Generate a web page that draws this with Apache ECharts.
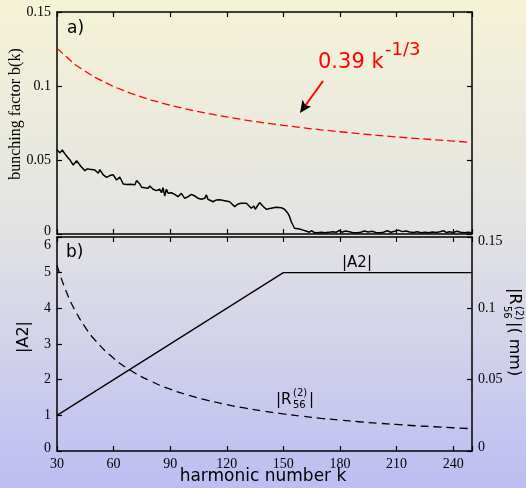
<!DOCTYPE html>
<html>
<head>
<meta charset="utf-8">
<script src="https://cdn.jsdelivr.net/npm/echarts@6/dist/echarts.min.js"></script>
<style>
html,body{margin:0;padding:0;}
#chart{width:526px;height:488px;background:linear-gradient(to bottom,#f5f3d6 0%,#e2e2e4 48%,#bdbdf3 100%);}
</style>
</head>
<body>
<div id="chart"></div>
<script>
// ---- data ----
const xTicks = [30, 60, 90, 120, 150, 180, 210, 240];
const bunchK = [30,31,31.6,32.8,34,35.5,36.9,38.6,40.4,42.5,44.8,46,47.5,50.1,51.9,52.7,54.5,56.3,58,59.8,61.6,63.3,65.1,67,69,71.3,72.2,73.9,74.8,76.5,78.3,79.2,80.9,82.7,84.5,85.4,86.2,87.1,88,88.9,90.6,92.4,94.2,95.9,97.7,99.5,101.3,103,104.8,106.5,108.3,109.2,110,112.7,114.5,116.2,118.9,121.5,122.4,124.2,125.9,127.7,130.4,131.2,133,134.4,135.1,136.2,137.4,139.1,140.9,143.6,146.2,148.9,150.6,152.4,153.3,154.2,155.9,158.5,160,162,163.8,165,166.5,168,170,172,174,176,178,179.7,181,183,185,187,189,191,193,195,197,199,201,203,205,207,209,211,213,215,217,219,221,223,225,227,229,231,233,235,236.5,238,240,242,244,246,248,250];
const bunchB = [0.0568,0.0555,0.0548,0.0568,0.0545,0.052,0.050,0.0466,0.0495,0.046,0.0428,0.044,0.0437,0.0432,0.041,0.0435,0.040,0.0383,0.0395,0.040,0.0365,0.0385,0.0338,0.0335,0.0336,0.0333,0.0362,0.0338,0.0316,0.0312,0.0309,0.0324,0.0302,0.0293,0.0302,0.0279,0.0313,0.0257,0.0302,0.0275,0.0279,0.0268,0.0252,0.0275,0.0241,0.0252,0.0268,0.0257,0.0241,0.0235,0.0241,0.0264,0.0235,0.0218,0.0230,0.0232,0.0225,0.0218,0.0208,0.0185,0.0203,0.0208,0.0208,0.0203,0.0174,0.0189,0.0167,0.0189,0.0212,0.0189,0.0167,0.0174,0.0180,0.0178,0.0167,0.0140,0.0117,0.0083,0.0039,0.0034,0.0028,0.0020,0.0012,0.0022,0.0010,0.0008,0.0012,0.0009,0.0011,0.0015,0.0012,0.0024,0.0012,0.0020,0.0015,0.0009,0.0008,0.0012,0.0020,0.0014,0.0018,0.0010,0.0008,0.0012,0.0022,0.0012,0.0018,0.0026,0.0016,0.0020,0.0013,0.0010,0.0015,0.0009,0.0012,0.0008,0.0014,0.0010,0.0015,0.0022,0.0010,0.0015,0.0010,0.0018,0.0012,0.0009,0.0011,0.0009];
const fitK = [30,40,50,60,70,80,90,100,110,120,130,140,150,160,170,180,190,200,210,220,230,240,250];
const fitB = [0.1255,0.1140,0.1059,0.0996,0.0946,0.0905,0.0870,0.0840,0.0814,0.0791,0.0770,0.0751,0.0734,0.0718,0.0704,0.0691,0.0678,0.0667,0.0656,0.0646,0.0637,0.0628,0.0619];
const a2K = [30, 150, 250];
const a2V = [1, 5, 5];
const r56K = [30,35,40,45,50,60,70,80,90,100,110,120,130,140,150,160,170,180,190,200,210,220,230,240,250];
const r56V = [0.130,0.1114,0.0975,0.0867,0.078,0.065,0.0557,0.0488,0.0433,0.039,0.0355,0.0325,0.030,0.0279,0.026,0.0244,0.0229,0.0217,0.0205,0.0195,0.0186,0.0177,0.0170,0.0163,0.0156];
const topYTicks = [0, 0.05, 0.1, 0.15];
const leftYTicks = [0, 1, 2, 3, 4, 5, 6];
const rightYTicks = [0, 0.05, 0.1, 0.15];

const zip = (a, b) => a.map((v, i) => [v, b[i]]);
const SERIF = 'Liberation Serif';
const SANS = 'DejaVu Sans';
const axisLine = {show: true, onZero: false, lineStyle: {color: '#000', width: 1.5}};
const tick = {show: true, inside: true, length: 5, lineStyle: {color: '#000', width: 1.2}};
const lbl = {color: '#000', fontFamily: SERIF, fontSize: 14};

function xAx(grid, pos, labels) {
  return {
    type: 'value', gridIndex: grid, position: pos, min: 30, max: 250, interval: 30,
    axisLine: axisLine, axisTick: tick, splitLine: {show: false},
    axisLabel: Object.assign({show: labels, margin: 6,
      formatter: v => (xTicks.indexOf(v) >= 0 ? String(v) : '')}, lbl)
  };
}

const chart = echarts.init(document.getElementById('chart'), null, {renderer: 'canvas'});
chart.setOption({
  backgroundColor: 'transparent',
  animation: false,
  grid: [
    {left: 57, top: 12, width: 415, height: 222},
    {left: 57, top: 237, width: 415, height: 214}
  ],
  xAxis: [xAx(0, 'bottom', false), xAx(0, 'top', false), xAx(1, 'bottom', true), xAx(1, 'top', false)],
  yAxis: [
    {type: 'value', gridIndex: 0, position: 'left', min: 0, max: 0.15, interval: 0.05,
     axisLine: axisLine, axisTick: tick, splitLine: {show: false},
     axisLabel: Object.assign({margin: 6,
       formatter: v => (v === 0 ? '{z|0}' : String(v)),
       rich: {z: {fontFamily: SERIF, fontSize: 14, color: '#000', padding: [0, 0, 6, 0]}}}, lbl)},
    {type: 'value', gridIndex: 0, position: 'right', min: 0, max: 0.15, interval: 0.05,
     axisLine: axisLine, axisTick: tick, splitLine: {show: false}, axisLabel: {show: false}},
    {type: 'value', gridIndex: 1, position: 'left', min: 0, max: 6, interval: 1,
     axisLine: axisLine, axisTick: tick, splitLine: {show: false},
     axisLabel: Object.assign({margin: 6,
       formatter: v => (v === 6 ? '{s|6}' : (v === 0 ? '{z|0}' : String(v))),
       rich: {s: {fontFamily: SERIF, fontSize: 14, color: '#000', padding: [16, 0, 0, 0]},
              z: {fontFamily: SERIF, fontSize: 14, color: '#000', padding: [0, 0, 6, 0]}}}, lbl)},
    {type: 'value', gridIndex: 1, position: 'right', min: 0, max: 0.15, interval: 0.05,
     axisLine: axisLine, axisTick: tick, splitLine: {show: false},
     axisLabel: Object.assign({margin: 6,
       formatter: v => (v === 0.15 ? '{s|0.15}' : (v === 0 ? '{z|0}' : String(v))),
       rich: {s: {fontFamily: SERIF, fontSize: 14, color: '#000', padding: [8, 0, 0, 0]},
              z: {fontFamily: SERIF, fontSize: 14, color: '#000', padding: [0, 0, 8, 0]}}}, lbl)}
  ],
  series: [
    {type: 'line', xAxisIndex: 0, yAxisIndex: 0, data: zip(fitK, fitB), showSymbol: false, smooth: false,
     lineStyle: {color: '#ff0000', width: 1.3, type: [8, 4]}},
    {type: 'line', xAxisIndex: 0, yAxisIndex: 0, data: zip(bunchK, bunchB), showSymbol: false,
     lineStyle: {color: '#000', width: 1.5}},
    {type: 'line', xAxisIndex: 2, yAxisIndex: 2, data: zip(a2K, a2V), showSymbol: false,
     lineStyle: {color: '#000', width: 1.3}},
    {type: 'line', xAxisIndex: 2, yAxisIndex: 3, data: zip(r56K, r56V), showSymbol: false, smooth: true,
     lineStyle: {color: '#000', width: 1.3, type: [8, 5]}}
  ],
  graphic: [
    {type: 'text', x: 67, y: 29, style: {text: 'a)', fill: '#000', fontFamily: SANS, fontSize: 17, align: 'left', verticalAlign: 'middle'}},
    {type: 'text', x: 66, y: 253, style: {text: 'b)', fill: '#000', fontFamily: SANS, fontSize: 17, align: 'left', verticalAlign: 'middle'}},
    {type: 'text', x: 16, y: 114, rotation: Math.PI / 2, style: {text: 'bunching factor b(k)', fill: '#000', fontFamily: SERIF, fontSize: 16, align: 'center', verticalAlign: 'middle'}},
    {type: 'text', x: 24, y: 337, rotation: Math.PI / 2, style: {text: '|A2|', fill: '#000', fontFamily: SANS, fontSize: 16, align: 'center', verticalAlign: 'middle'}},
    {type: 'text', x: 263, y: 477, style: {text: 'harmonic number k', fill: '#000', fontFamily: SANS, fontSize: 17, align: 'center', verticalAlign: 'middle'}},
    {type: 'text', x: 357, y: 263, style: {text: '|A2|', fill: '#000', fontFamily: SANS, fontSize: 15, align: 'center', verticalAlign: 'middle'}},
    {type: 'text', x: 276, y: 400, style: {text: '|R', fill: '#000', fontFamily: SANS, fontSize: 15, align: 'left', verticalAlign: 'middle'}},
    {type: 'text', x: 293, y: 393, style: {text: '(2)', fill: '#000', fontFamily: SANS, fontSize: 10, align: 'left', verticalAlign: 'middle'}},
    {type: 'text', x: 293, y: 405, style: {text: '56', fill: '#000', fontFamily: SANS, fontSize: 10, align: 'left', verticalAlign: 'middle'}},
    {type: 'text', x: 309, y: 400, style: {text: '|', fill: '#000', fontFamily: SANS, fontSize: 15, align: 'left', verticalAlign: 'middle'}},
    {type: 'group', x: 514, y: 288, rotation: -Math.PI / 2, children: [
      {type: 'text', x: 0, y: 0, style: {text: '|R', fill: '#000', fontFamily: SANS, fontSize: 16, align: 'left', verticalAlign: 'middle'}},
      {type: 'text', x: 18, y: -5, style: {text: '(2)', fill: '#000', fontFamily: SANS, fontSize: 10, align: 'left', verticalAlign: 'middle'}},
      {type: 'text', x: 18, y: 7, style: {text: '56', fill: '#000', fontFamily: SANS, fontSize: 10, align: 'left', verticalAlign: 'middle'}},
      {type: 'text', x: 34, y: 0, style: {text: '|( mm)', fill: '#000', fontFamily: SANS, fontSize: 16, align: 'left', verticalAlign: 'middle'}}
    ]},
    {type: 'text', x: 318, y: 63, style: {text: '0.39 k', fill: '#ff0000', fontFamily: SANS, fontSize: 21, align: 'left', verticalAlign: 'middle'}},
    {type: 'text', x: 385, y: 50, style: {text: '-1/3', fill: '#ff0000', fontFamily: SANS, fontSize: 18, align: 'left', verticalAlign: 'middle'}},
    {type: 'line', shape: {x1: 323, y1: 81, x2: 305, y2: 106}, style: {stroke: '#ff0000', lineWidth: 2}},
    {type: 'polygon', shape: {points: [[300, 113], [302.5, 99.5], [305.3, 105.3], [311, 106.5]]}, style: {fill: '#000'}}
  ]
});
</script>
</body>
</html>
